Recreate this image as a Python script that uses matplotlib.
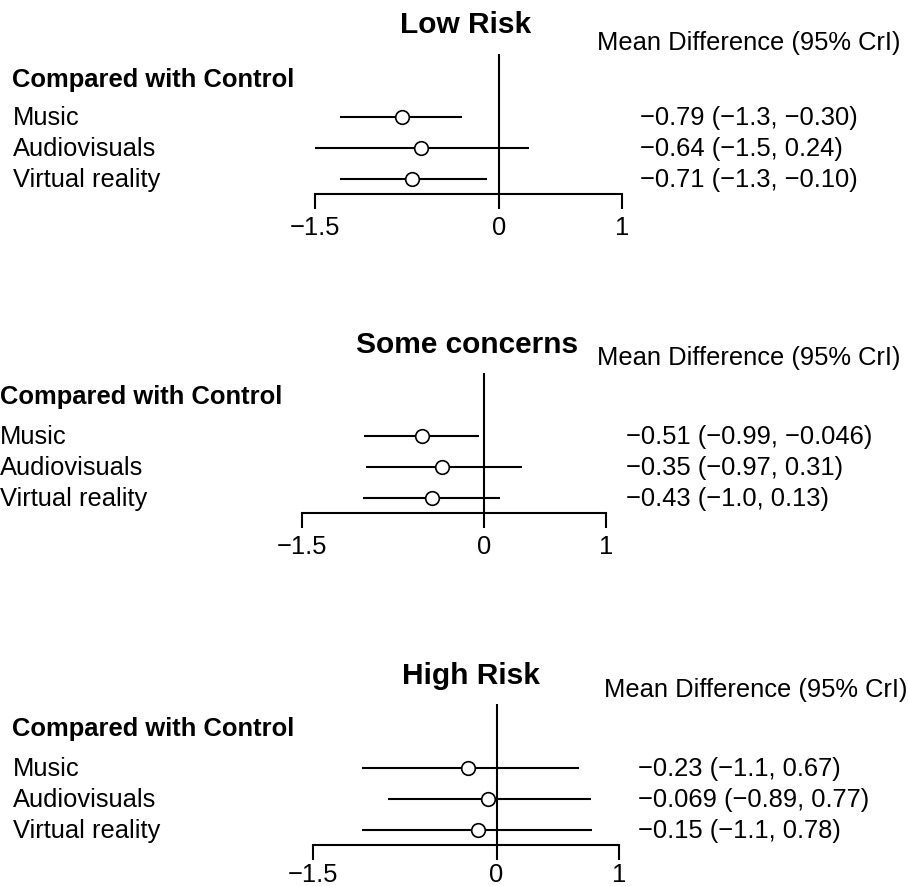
import matplotlib
matplotlib.use("Agg")
import matplotlib.pyplot as plt
import matplotlib.transforms as mtransforms

plt.rcParams['font.family'] = ['Liberation Sans', 'DejaVu Sans']

# ---- data ----
treatments = ["Music", "Audiovisuals", "Virtual reality"]
panel_titles = ["Low Risk", "Some concerns", "High Risk"]

low_mean = [-0.79, -0.64, -0.71]
low_lo = [-1.3, -1.5, -1.3]
low_hi = [-0.30, 0.24, -0.10]
low_labels = ["\u22120.79 (\u22121.3, \u22120.30)", "\u22120.64 (\u22121.5, 0.24)", "\u22120.71 (\u22121.3, \u22120.10)"]

some_mean = [-0.51, -0.35, -0.43]
some_lo = [-0.99, -0.97, -1.0]
some_hi = [-0.046, 0.31, 0.13]
some_labels = ["\u22120.51 (\u22120.99, \u22120.046)", "\u22120.35 (\u22120.97, 0.31)", "\u22120.43 (\u22121.0, 0.13)"]

high_mean = [-0.23, -0.069, -0.15]
high_lo = [-1.1, -0.89, -1.1]
high_hi = [0.67, 0.77, 0.78]
high_labels = ["\u22120.23 (\u22121.1, 0.67)", "\u22120.069 (\u22120.89, 0.77)", "\u22120.15 (\u22121.1, 0.78)"]

xticks = [-1.5, 0, 1]
xticklabels = ["\u22121.5", "0", "1"]
header = "Compared with Control"
col_header = "Mean Difference (95% CrI)"

W, H = 908, 887
fig = plt.figure(figsize=(W / 100, H / 100), dpi=100)

# layout per panel (pixels)
layouts = [
    dict(x0=315, x1=622, top=55, axis=195, row0=118, lab_x=13, cmp_x=12, val_x=640, md_x=597, md_y=43, cmp_y=80, title_x=466, title_y=25, pad=4),
    dict(x0=302, x1=606, top=374, axis=514, row0=437, lab_x=0, cmp_x=0, val_x=626, md_x=597, md_y=358, cmp_y=397, title_x=467, title_y=345, pad=4),
    dict(x0=313, x1=619, top=705, axis=846, row0=769, lab_x=13, cmp_x=12, val_x=638, md_x=604, md_y=690, cmp_y=729, title_x=471, title_y=676, pad=1.5),
]
data = [
    (low_mean, low_lo, low_hi, low_labels),
    (some_mean, some_lo, some_hi, some_labels),
    (high_mean, high_lo, high_hi, high_labels),
]

row_step = 31.0
FS = 18.4

for title, lay, (means, los, his, labels) in zip(panel_titles, layouts, data):
    left = lay['x0'] / W
    width = (lay['x1'] - lay['x0']) / W
    bottom = (H - lay['axis']) / H
    height = (lay['axis'] - lay['top']) / H
    ax = fig.add_axes([left, bottom, width, height])
    ax.set_xlim(-1.5, 1)
    n = len(treatments)
    ytop = -(lay['row0'] - lay['top']) / row_step
    ybot = (n - 1) + (lay['axis'] - (lay['row0'] + (n - 1) * row_step)) / row_step
    ax.set_ylim(ybot, ytop)
    for s in ['top', 'left', 'right']:
        ax.spines[s].set_visible(False)
    ax.spines['bottom'].set_linewidth(1.5)
    ax.set_yticks([])
    ax.set_xticks(xticks)
    ax.set_xticklabels(xticklabels, fontsize=FS)
    ax.tick_params(axis='x', direction='out', length=11, width=1.5, pad=lay['pad'])
    ax.patch.set_visible(False)

    ax.axvline(0, color='black', lw=1.5, zorder=1)
    ys = list(range(n))
    for y, m, lo, hi in zip(ys, means, los, his):
        ax.plot([lo, hi], [y, y], color='black', lw=1.5, zorder=2, solid_capstyle='butt')
        ax.plot([m], [y], marker='o', ms=9.8, mfc='white', mec='black', mew=1.2, zorder=3)

    tr_fig_x = mtransforms.blended_transform_factory(fig.transFigure, ax.transData)
    for y, name, lab in zip(ys, treatments, labels):
        ax.text(lay['lab_x'] / W, y, name, transform=tr_fig_x, fontsize=FS,
                ha='left', va='center', clip_on=False)
        ax.text(lay['val_x'] / W, y, lab, transform=tr_fig_x, fontsize=FS,
                ha='left', va='center', clip_on=False)
    ax.text(lay['cmp_x'] / W, (lay['cmp_y'] - lay['row0']) / row_step, header,
            transform=tr_fig_x, fontsize=FS, fontweight='bold', ha='left', va='center', clip_on=False)
    ax.text(lay['md_x'] / W, (lay['md_y'] - lay['row0']) / row_step, col_header,
            transform=tr_fig_x, fontsize=FS, ha='left', va='center', clip_on=False)
    ax.text(lay['title_x'] / W, (lay['title_y'] - lay['row0']) / row_step, title,
            transform=tr_fig_x, fontsize=21.5, fontweight='bold', ha='center', va='center', clip_on=False)

fig.savefig("out.png", dpi=100, facecolor='white')
